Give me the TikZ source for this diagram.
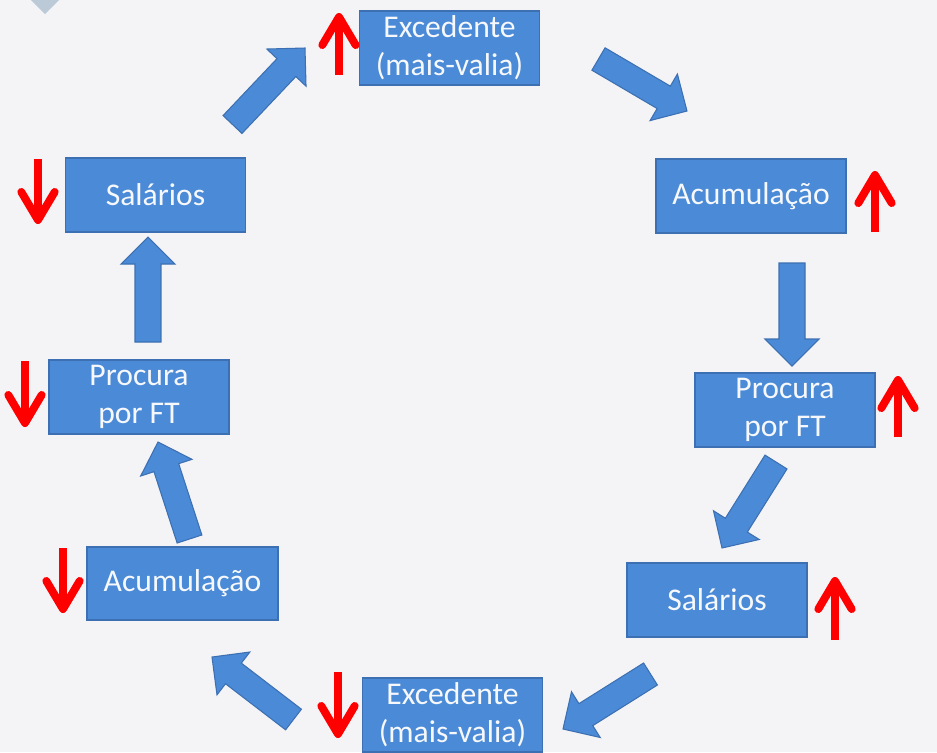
\documentclass[tikz,border=0pt]{standalone}
\usepackage{fontspec}
\setmainfont{Carlito}
\usetikzlibrary{arrows.meta,calc}
\definecolor{paper}{RGB}{244,244,246}
\definecolor{boxblue}{RGB}{74,138,214}
\definecolor{boxedge}{RGB}{60,112,178}
\definecolor{boxtext}{RGB}{246,248,252}
\definecolor{markred}{RGB}{255,0,0}
\definecolor{corner}{RGB}{188,202,216}
\tikzstyle{box}=[rectangle,fill=boxblue,draw=boxedge,line width=0.6pt,text=boxtext,align=center,inner sep=0pt,minimum width=3.6cm,minimum height=1.48cm,font=\fontsize{18}{21.5}\selectfont]
\tikzstyle{flow}=[fill=boxblue,draw=boxedge,line width=0.6pt,line join=miter]
\tikzstyle{updown}=[draw=markred,line width=4.5pt,-{Straight Barb[length=16pt,width=19pt,round]}]
% block arrow from tail #1 to tip #2
\newcommand{\flowarrow}[2]{%
\coordinate (fm) at ($(#2)!0.54cm!(#1)$);
\filldraw[flow] ($(#1)!0.26cm!90:(#2)$) -- ($(fm)!0.26cm!-90:(#1)$) -- ($(fm)!0.54cm!-90:(#1)$) -- (#2)
 -- ($(fm)!0.54cm!90:(#1)$) -- ($(fm)!0.26cm!90:(#1)$) -- ($(#1)!0.26cm!-90:(#2)$) -- cycle;}
\begin{document}
\begin{tikzpicture}[x=0.02cm,y=-0.02cm]
\useasboundingbox (0,0) rectangle (937,752);
\fill[paper] (0,0) rectangle (937,752);
\fill[corner] (31,0) -- (45,14) -- (59,0) -- cycle;

\node[box] (ExcT) at (449.5,48) {Excedente\\(mais-valia)};
\node[box,minimum width=3.8cm] (AcuR) at (751,196) {Acumulação};
\node[box] (ProR) at (785,410) {Procura\\por FT};
\node[box] (SalR) at (717,600) {Salários};
\node[box] (ExcB) at (452.5,715) {Excedente\\(mais-valia)};
\node[box,minimum width=3.82cm,minimum height=1.46cm] (AcuL) at (182.5,583.5) {Acumulação};
\node[box] (ProL) at (139,397) {Procura\\por FT};
\node[box] (SalL) at (155.5,195) {Salários};

\coordinate (t1) at (232.5,124.5); \coordinate (h1) at (305,48);
\coordinate (t2) at (598.5,59);    \coordinate (h2) at (687,111);
\coordinate (t3) at (792,263);     \coordinate (h3) at (792,366);
\coordinate (t4) at (776,462);     \coordinate (h4) at (722,548);
\coordinate (t5) at (650.5,674);   \coordinate (h5) at (563,729);
\coordinate (t6) at (293.5,719.5); \coordinate (h6) at (212,657);
\coordinate (t7) at (189.5,539);   \coordinate (h7) at (158,442);
\coordinate (t8) at (148,342);     \coordinate (h8) at (148,237);
\foreach \i in {1,...,8} {\flowarrow{t\i}{h\i}}

\foreach \x/\ya/\yb in {339/75/13,875/232/171,898/437/376,835/640/577}
  \draw[updown] (\x,\ya) -- (\x,\yb);
\foreach \x/\ya/\yb in {38/159/224,338/672/738,63/548/613,25/361/427}
  \draw[updown] (\x,\ya) -- (\x,\yb);
\end{tikzpicture}
\end{document}
